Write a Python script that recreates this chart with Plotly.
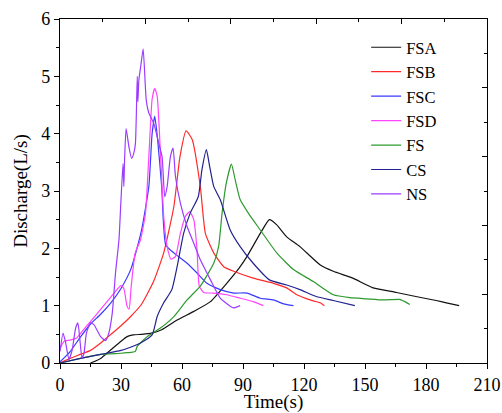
import plotly.graph_objects as go

FSA_t = [15, 20, 25, 30, 33, 36, 40, 45, 50, 57.6, 65.8, 74, 82, 88, 92, 98.5, 103, 106.6, 111.5, 118, 128, 134.4, 144, 154, 165.5, 175, 185, 190, 196.3]
FSA_q = [0, 0.08, 0.23, 0.38, 0.46, 0.49, 0.5, 0.52, 0.58, 0.75, 0.9, 1.07, 1.39, 1.65, 1.86, 2.26, 2.5, 2.41, 2.2, 2.03, 1.71, 1.6, 1.48, 1.31, 1.23, 1.16, 1.09, 1.05, 1.0]

FSB_t = [0, 5, 10, 15, 20, 25, 30, 35, 40, 46, 51, 56, 59, 62, 65, 69, 71.5, 75.6, 80.5, 85.4, 95, 105, 111.5, 116.5, 123, 128, 130]
FSB_q = [0, 0.08, 0.15, 0.22, 0.35, 0.5, 0.65, 0.82, 1.02, 1.42, 1.92, 2.73, 3.6, 4.05, 3.9, 3.08, 2.26, 1.92, 1.68, 1.6, 1.48, 1.39, 1.31, 1.19, 1.1, 1.05, 1.0]

FSC_t = [0, 5, 10, 15, 20, 25, 30, 35, 40, 43.7, 45.3, 46.6, 48, 50, 52, 56, 62.5, 67.4, 72.3, 78.8, 85.4, 92, 98.5, 105, 110, 114.8]
FSC_q = [0.02, 0.2, 0.45, 0.68, 0.85, 1.05, 1.3, 1.65, 2.3, 3.08, 4.0, 4.3, 3.9, 3.08, 2.06, 1.92, 1.74, 1.57, 1.39, 1.28, 1.22, 1.22, 1.13, 1.1, 1.03, 1.0]

FSD_t = [0, 2, 5, 8, 12, 18, 25, 30, 31.4, 33, 34, 35, 37, 39.6, 42, 43.7, 45.3, 46.6, 47.8, 49.4, 51, 52.7, 54.6, 56.8, 59.2, 61.7, 63.8, 65.8, 67.4, 68.5, 70.7, 75.6, 82, 88.6, 95, 100]
FSD_q = [0.25, 0.38, 0.4, 0.43, 0.6, 0.85, 1.15, 1.35, 1.3, 0.99, 0.94, 1.33, 1.92, 2.15, 2.6, 3.6, 4.6, 4.79, 4.65, 3.66, 2.56, 2.03, 1.81, 1.86, 2.26, 2.56, 2.64, 2.5, 1.97, 1.34, 1.23, 1.22, 1.19, 1.13, 1.07, 1.0]

FS_t = [0, 10, 20, 30, 33, 37, 38, 42.9, 49.4, 56, 62.5, 69, 75.6, 78, 79.7, 81.8, 84.3, 86.2, 88.6, 92.7, 98.5, 106.6, 114.8, 124.6, 134.4, 142.6, 150.8, 159, 167, 169.6, 172]
FS_q = [0, 0.08, 0.15, 0.17, 0.18, 0.2, 0.29, 0.46, 0.61, 0.81, 1.1, 1.34, 1.74, 2.03, 2.61, 3.14, 3.47, 3.19, 2.85, 2.61, 2.32, 1.92, 1.63, 1.42, 1.19, 1.14, 1.12, 1.1, 1.11, 1.07, 1.02]

CS_t = [0, 10, 20, 30, 35, 39.6, 45.3, 47.8, 51, 55, 57.6, 60.8, 64, 68, 69.8, 72, 73.6, 75.6, 78.8, 83.7, 88.6, 95, 103, 111.5, 118, 126, 134.4, 145]
CS_q = [0, 0.08, 0.15, 0.22, 0.28, 0.35, 0.49, 0.81, 1.05, 1.28, 1.68, 2.26, 2.61, 2.9, 3.37, 3.72, 3.43, 3.08, 2.85, 2.32, 2.03, 1.74, 1.45, 1.36, 1.28, 1.16, 1.09, 1.0]

NS_t = [0, 1.5, 2.8, 4.4, 6, 7.7, 8.8, 9.8, 10.8, 11.8, 13, 15, 16.7, 20, 22.4, 24, 25.7, 27.3, 29, 30, 31, 31.4, 31.7, 32.5, 33.9, 35.2, 36.3, 37.1, 38, 38.3, 38.8, 39.8, 40.9, 42.4, 43.7, 46.1, 48.6, 50.2, 51.5, 52.7, 54.3, 55.6, 56.8, 59.2, 62.5, 65.8, 69, 74, 78.8, 83.7, 85.4, 88.6]
NS_q = [0.2, 0.52, 0.35, 0.06, 0.23, 0.61, 0.7, 0.4, 0.09, 0.17, 0.52, 0.7, 0.67, 0.46, 0.39, 0.52, 0.87, 1.57, 2.15, 2.85, 3.48, 3.08, 3.48, 4.09, 3.77, 3.57, 3.66, 3.83, 5.0, 4.56, 4.94, 5.2, 5.48, 4.59, 4.36, 4.18, 3.83, 3.6, 2.9, 3.08, 3.6, 3.75, 3.25, 2.79, 2.38, 2.09, 1.8, 1.45, 1.13, 0.99, 0.96, 1.0]

series = [
    ("FSA", FSA_t, FSA_q, "#111111"),
    ("FSB", FSB_t, FSB_q, "#ff2a2a"),
    ("FSC", FSC_t, FSC_q, "#3a3aff"),
    ("FSD", FSD_t, FSD_q, "#ff44ff"),
    ("FS", FS_t, FS_q, "#2e9a2e"),
    ("CS", CS_t, CS_q, "#23238f"),
    ("NS", NS_t, NS_q, "#9b3cff"),
]

FONT = "Liberation Serif"
fig = go.Figure()
for name, t, q, c in series:
    fig.add_trace(go.Scatter(x=t, y=q, name=name, mode="lines",
                             line=dict(color=c, width=1.2, shape="spline", smoothing=0.5)))

# invisible trace for the mirrored top/right axes
fig.add_trace(go.Scatter(x=[0], y=[0], xaxis="x2", yaxis="y2", mode="markers",
                         marker=dict(opacity=0), showlegend=False, hoverinfo="skip"))

fig.update_layout(
    width=502, height=413,
    margin=dict(l=60, r=15, t=19, b=50, autoexpand=False),
    paper_bgcolor="white", plot_bgcolor="white",
    font=dict(family=FONT, size=18, color="black"),
    showlegend=True,
    legend=dict(x=0.717, y=0.968, xanchor="left", yanchor="top",
                bgcolor="rgba(0,0,0,0)", font=dict(family=FONT, size=16.5),
                tracegroupgap=0),
    xaxis=dict(range=[0, 210], dtick=30, tick0=0, showgrid=False, zeroline=False,
               automargin=False,
               showline=True, linecolor="black", linewidth=1.2,
               ticks="outside", ticklen=5, tickwidth=1.2, tickcolor="black",
               minor=dict(dtick=15, ticks="outside", ticklen=3, tickcolor="black", tickwidth=1.2),
               title=dict(text="Time(s)", font=dict(family=FONT, size=19), standoff=0),
               tickfont=dict(family=FONT, size=18)),
    yaxis=dict(range=[0, 6], dtick=1, tick0=0, showgrid=False, zeroline=False,
               automargin=False,
               showline=True, linecolor="black", linewidth=1.2,
               ticks="outside", ticklen=5, tickwidth=1.2, tickcolor="black",
               minor=dict(dtick=0.5, ticks="outside", ticklen=3, tickcolor="black", tickwidth=1.2),
               title=dict(text="Discharge(L/s)", font=dict(family=FONT, size=19), standoff=8),
               tickfont=dict(family=FONT, size=18)),
    xaxis2=dict(overlaying="x", side="top", range=[0, 210], dtick=42, tick0=0, automargin=False,
                showgrid=False, zeroline=False, showline=True, linecolor="black", linewidth=1.2,
                ticks="inside", ticklen=5, tickwidth=1.2, tickcolor="black", showticklabels=False,
                minor=dict(dtick=21, ticks="inside", ticklen=3, tickcolor="black", tickwidth=1.2)),
    yaxis2=dict(overlaying="y", side="right", range=[0, 6], dtick=1.2, tick0=0, automargin=False,
                showgrid=False, zeroline=False, showline=True, linecolor="black", linewidth=1.2,
                ticks="inside", ticklen=5, tickwidth=1.2, tickcolor="black", showticklabels=False,
                minor=dict(dtick=0.6, ticks="inside", ticklen=3, tickcolor="black", tickwidth=1.2)),
)

fig.write_html("out.html")
